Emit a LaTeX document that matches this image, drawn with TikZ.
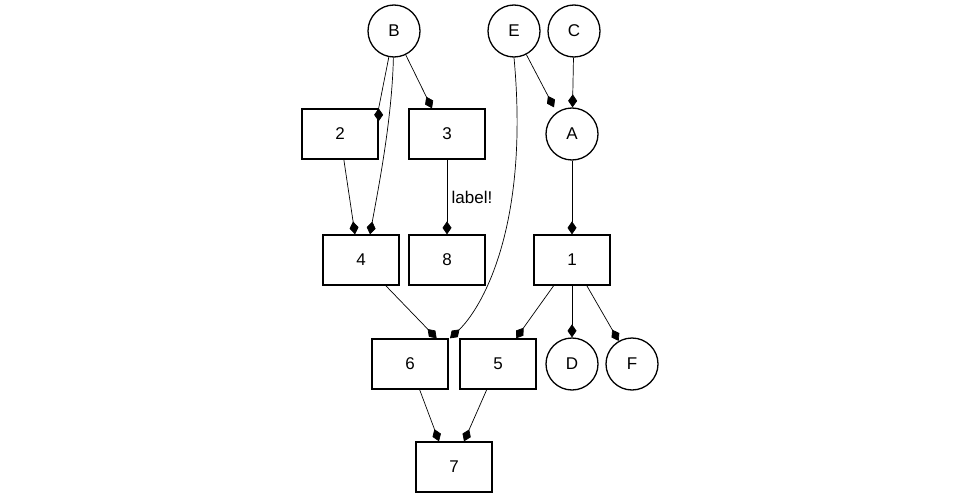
\documentclass[tikz,border=0pt]{standalone}
\usepackage{fontspec}
\setmainfont{Liberation Sans}
\usetikzlibrary{arrows.meta}
\begin{document}
\begin{tikzpicture}[x=1pt,y=-1pt,
  box/.style={draw,line width=1.3pt,minimum width=76pt,minimum height=50pt,inner sep=0pt,font=\fontsize{17}{17}\selectfont},
  circ/.style={draw,circle,line width=1.3pt,minimum size=52pt,inner sep=0pt,font=\fontsize{17}{17}\selectfont},
  e/.style={draw,line width=0.7pt,-{Diamond[length=13pt,width=9pt]}}]
\useasboundingbox (0,0) rectangle (960,500);
\node[circ] (B) at (394,31) {B};
\node[circ] (E) at (514,31) {E};
\node[circ] (C) at (574,31) {C};
\node[circ] (A) at (572,134) {A};
\node[box] (n2) at (340,134) {2};
\node[box] (n3) at (447,134) {3};
\node[box] (n4) at (361,260) {4};
\node[box] (n8) at (447,260) {8};
\node[box] (n1) at (572,260) {1};
\node[box] (n6) at (410,364) {6};
\node[box] (n5) at (498,364) {5};
\node[circ] (D) at (572,364) {D};
\node[circ] (F) at (632,364) {F};
\node[box] (n7) at (454,467) {7};
\draw[e] (B) -- (n2.north east) ++(0,0);
\draw[e] (B) -- ([xshift=-15pt]n3.north);
\draw[e] (B) .. controls (392,120) and (378,190) .. ([xshift=9pt]n4.north);
\draw[e] (n2) -- ([xshift=-6pt]n4.north);
\draw[e] (n3) -- node[right,font=\fontsize{17}{17}\selectfont,xshift=1pt]{label!} (n8);
\draw[e] (E) -- ([xshift=-18pt]A.north);
\draw[e] (C) -- (A);
\draw[e] (E.south) .. controls (530,230) and (480,310) .. ([xshift=40pt]n6.north);
\draw[e] (A) -- (n1);
\draw[e] (n1) -- ([xshift=18pt]n5.north);
\draw[e] (n1) -- (D);
\draw[e] (n1) -- (F);
\draw[e] (n4) -- ([xshift=-12pt]n6.north east);
\draw[e] (n6) -- ([xshift=-15pt]n7.north);
\draw[e] (n5) -- ([xshift=10pt]n7.north);
\end{tikzpicture}
\end{document}
